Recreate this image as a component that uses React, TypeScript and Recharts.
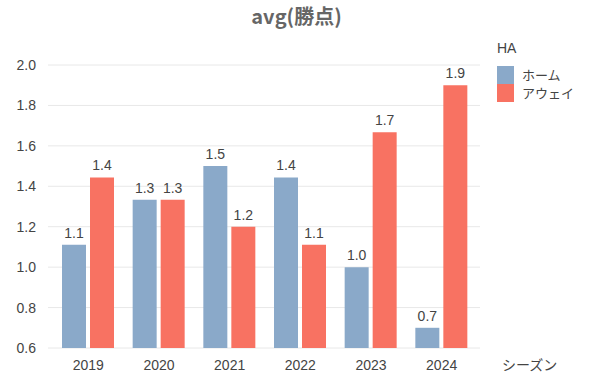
import React from 'react';
import { BarChart, Bar, XAxis, YAxis, CartesianGrid, LabelList } from 'recharts';

const seasons = ['2019', '2020', '2021', '2022', '2023', '2024'];
const homeValues = [1.111, 1.333, 1.5, 1.444, 1.0, 0.7];
const awayValues = [1.444, 1.333, 1.2, 1.111, 1.667, 1.9];
const yTicks = [0.6, 0.8, 1.0, 1.2, 1.4, 1.6, 1.8, 2.0];
const seriesNames = ['ホーム', 'アウェイ'];
const legendTitle = 'HA';
const chartTitle = 'avg(勝点)';
const xAxisTitle = 'シーズン';

const HOME_COLOR = '#8aa9c9';
const AWAY_COLOR = '#f87262';
const FONT = '"Liberation Sans", "Noto Sans CJK JP", sans-serif';
const TITLE_FONT = '"Noto Sans CJK JP", "Noto Sans", sans-serif';
const TEXT_COLOR = '#444';

const data = seasons.map((s, i) => ({ season: s, home: homeValues[i], away: awayValues[i] }));

const fmt = (v: any) => Number(v).toFixed(1);

export default function App() {
  return (
    <div style={{ position: 'absolute', left: 0, top: 0, width: 593, height: 375, background: '#fff', fontFamily: FONT }}>
      <div style={{ position: 'absolute', left: 0, width: 593, top: 2, textAlign: 'center', fontSize: 20, fontWeight: 700, color: '#666', lineHeight: '28px', fontFamily: TITLE_FONT }}>
        {chartTitle}
      </div>
      <BarChart
        width={593}
        height={375}
        data={data}
        margin={{ top: 65, right: 113, bottom: 0, left: 0 }}
        barSize={24}
        barGap={4}
      >
        <CartesianGrid vertical={false} stroke="#e8e8e8" />
        <XAxis
          dataKey="season"
          axisLine={false}
          tickLine={false}
          height={27}
          tickSize={0}
          tickMargin={12}
          padding={{ left: 5, right: 3 }}
          tick={{ fill: TEXT_COLOR, fontSize: 14, fontFamily: FONT }}
        />
        <YAxis
          type="number"
          domain={[0.6, 2.0]}
          ticks={yTicks}
          allowDataOverflow
          width={48}
          axisLine={false}
          tickLine={false}
          tickSize={6}
          tickMargin={6}
          tickFormatter={fmt}
          tick={{ fill: TEXT_COLOR, fontSize: 14, fontFamily: FONT }}
        />
        <Bar dataKey="home" name={seriesNames[0]} fill={HOME_COLOR} isAnimationActive={false}>
          <LabelList dataKey="home" position="top" offset={7} formatter={fmt} fill={TEXT_COLOR} fontSize={14} fontFamily={FONT} />
        </Bar>
        <Bar dataKey="away" name={seriesNames[1]} fill={AWAY_COLOR} isAnimationActive={false}>
          <LabelList dataKey="away" position="top" offset={7} formatter={fmt} fill={TEXT_COLOR} fontSize={14} fontFamily={FONT} />
        </Bar>
      </BarChart>
      <div style={{ position: 'absolute', left: 497, top: 40, fontSize: 13, color: TEXT_COLOR, fontFamily: TITLE_FONT }}>
        <div style={{ height: 26, lineHeight: '17px', fontSize: 14, fontFamily: FONT }}>{legendTitle}</div>
        {[HOME_COLOR, AWAY_COLOR].map((c, i) => (
          <div key={i} style={{ display: 'flex', alignItems: 'center', height: 18, overflow: 'visible' }}>
            <div style={{ width: 17, height: 18, background: c, flex: 'none' }} />
            <span style={{ marginLeft: 8, lineHeight: '16px', height: 16, display: 'block', whiteSpace: 'nowrap' }}>{seriesNames[i]}</span>
          </div>
        ))}
      </div>
      <div style={{ position: 'absolute', left: 502, top: 354, fontSize: 14, color: TEXT_COLOR, fontFamily: TITLE_FONT }}>{xAxisTitle}</div>
    </div>
  );
}
